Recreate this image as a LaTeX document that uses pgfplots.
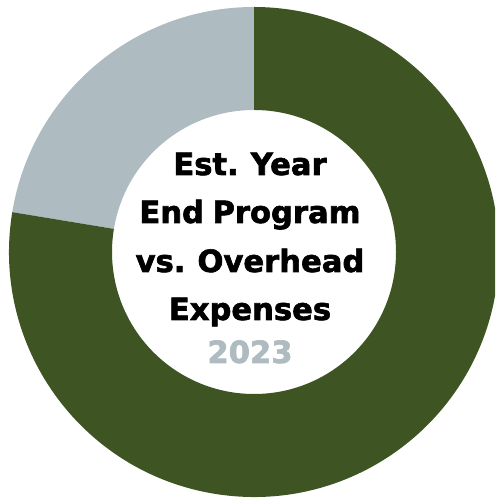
\documentclass[border=0pt]{standalone}
\usepackage{pgfplots}
\pgfplotsset{compat=1.18}
\usepackage{pgfplotstable}
\usepackage{fontspec}
\setmainfont{DejaVu Sans}
\newfontfamily\heavy[FakeBold=2,WordSpace=0.8]{DejaVu Sans Bold}
\definecolor{progcol}{RGB}{62,84,35}
\definecolor{ovhcol}{RGB}{174,187,192}
\pgfplotstableread{
category value
Program 77.6
Overhead 22.4
}\datatable
\pgfplotstablegetelem{0}{value}\of\datatable
\edef\progval{\pgfplotsretval}
\pgfplotstablegetelem{1}{value}\of\datatable
\edef\ovhval{\pgfplotsretval}
\pgfmathsetmacro{\aA}{90}
\pgfmathsetmacro{\aB}{90+\ovhval*3.6}
\pgfmathsetmacro{\aC}{\aB+\progval*3.6}
\begin{document}
\begin{tikzpicture}
\begin{axis}[
  width=247.5pt, height=250.5pt, scale only axis,
  xmin=-254, xmax=241, ymin=-249, ymax=252,
  hide axis, clip=true,
]
\begin{scope}
\clip (rel axis cs:0,0) rectangle (rel axis cs:1,1);
% Overhead sector
\fill[ovhcol] ([shift={(\aA:122.5pt)}]axis cs:0,0) arc[start angle=\aA, end angle=\aB, radius=122.5pt]
  -- ([shift={(\aB:71pt)}]axis cs:0,0) arc[start angle=\aB, end angle=\aA, radius=71pt] -- cycle;
% Program sector
\fill[progcol] ([shift={(\aB:122.5pt)}]axis cs:0,0) arc[start angle=\aB, end angle=\aC, radius=122.5pt]
  -- ([shift={(\aC:71pt)}]axis cs:0,0) arc[start angle=\aC, end angle=\aB, radius=71pt] -- cycle;
\end{scope}
\node[anchor=base, font=\heavy\fontsize{15.3}{18}\selectfont] at (axis cs:-4,77) {Est. Year};
\node[anchor=base, font=\heavy\fontsize{15.3}{18}\selectfont] at (axis cs:-4,29) {End Program};
\node[anchor=base, font=\heavy\fontsize{15.3}{18}\selectfont] at (axis cs:-4,-20) {vs. Overhead};
\node[anchor=base, font=\heavy\fontsize{15.3}{18}\selectfont] at (axis cs:-4,-68) {Expenses};
\node[anchor=base, font=\heavy\fontsize{15.3}{18}\selectfont, text=ovhcol] at (axis cs:-4,-111) {2023};
\end{axis}
\pgfresetboundingbox
\path[use as bounding box] (current axis.south west) rectangle (current axis.north east);
\end{tikzpicture}
\end{document}
